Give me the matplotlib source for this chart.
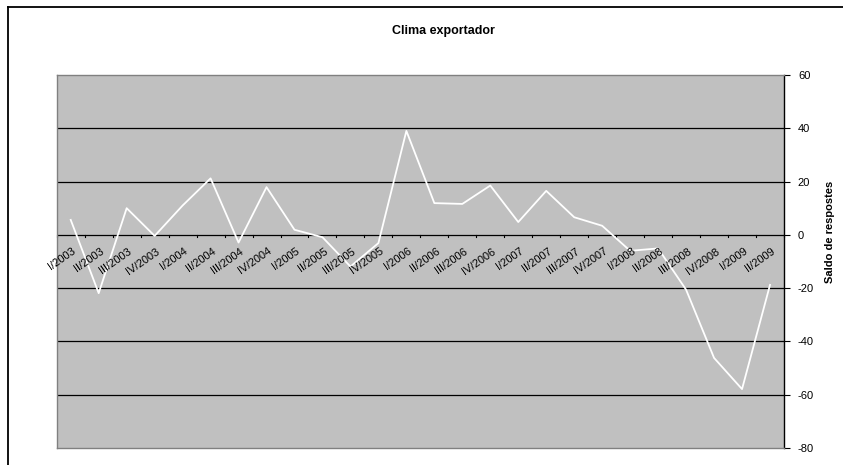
import matplotlib
matplotlib.use("Agg")
import matplotlib.pyplot as plt
from matplotlib.lines import Line2D

categories = ["I/2003", "II/2003", "III/2003", "IV/2003",
              "I/2004", "II/2004", "III/2004", "IV/2004",
              "I/2005", "II/2005", "III/2005", "IV/2005",
              "I/2006", "II/2006", "III/2006", "IV/2006",
              "I/2007", "II/2007", "III/2007", "IV/2007",
              "I/2008", "II/2008", "III/2008", "IV/2008",
              "I/2009", "II/2009"]
values = [5.6, -21.9, 10.0, -0.4,
          11.0, 21.2, -2.9, 17.9,
          1.9, -0.9, -11.9, -3.1,
          39.0, 11.9, 11.6, 18.5,
          4.8, 16.5, 6.6, 3.4,
          -6.0, -5.1, -20.6, -46.2,
          -57.9, -18.8]
yticks = [60, 40, 20, 0, -20, -40, -60, -80]
title = "Clima exportador"
ylabel = "Saldo de respostes"

plt.rcParams['font.family'] = ['Liberation Sans', 'DejaVu Sans']

fig = plt.figure(figsize=(8.43, 4.65), dpi=100)
ax = fig.add_axes([0.0673, 0.0366, 0.8627, 0.8022])
ax.set_facecolor('#C0C0C0')

n = len(categories)
x = list(range(n))
ax.set_xlim(-0.5, n - 0.5)
ax.set_ylim(-80, 60)

for t in yticks:
    if t not in (60, -80):
        ax.axhline(t, color='black', lw=0.9, zorder=1)

# category tick marks at boundaries on the zero line
for b in range(n + 1):
    ax.plot([b - 0.5, b - 0.5], [0, -0.9], color='black', lw=0.8, zorder=2,
            clip_on=False)

ax.plot(x, values, color='white', lw=1.3, zorder=3)

for i, lab in enumerate(categories):
    ax.text(i + 0.05, -4.2, lab, rotation=35, rotation_mode='anchor',
            ha='right', va='top', fontsize=8, color='black', zorder=4)

ax.set_xticks([])
ax.yaxis.tick_right()
ax.set_yticks(yticks)
ax.set_yticklabels([str(t) for t in yticks], fontsize=8)
ax.tick_params(axis='y', direction='out', length=4, width=0.8, pad=6,
               colors='black')
for s in ['left', 'top', 'bottom']:
    ax.spines[s].set_color('#808080')
    ax.spines[s].set_linewidth(1.0)
ax.spines['right'].set_color('black')
ax.spines['right'].set_linewidth(1.0)

fig.text(830 / 843, 1 - 232 / 465, ylabel, rotation=90, ha='center',
         va='center', fontsize=8, fontweight='bold')

fig.text(443 / 843, 1 - 31 / 465, title, ha='center', va='center',
         fontsize=9, fontweight='bold')

# outer chart frame (extends beyond the image on right/bottom)
fx = 7.5 / 843
fy = 1 - 7 / 465
fig.add_artist(Line2D([fx, fx], [0, fy], transform=fig.transFigure,
                      color='black', lw=1.3))
fig.add_artist(Line2D([fx, 1.0], [fy, fy], transform=fig.transFigure,
                      color='black', lw=1.3))

fig.savefig('out.png', dpi=100)
